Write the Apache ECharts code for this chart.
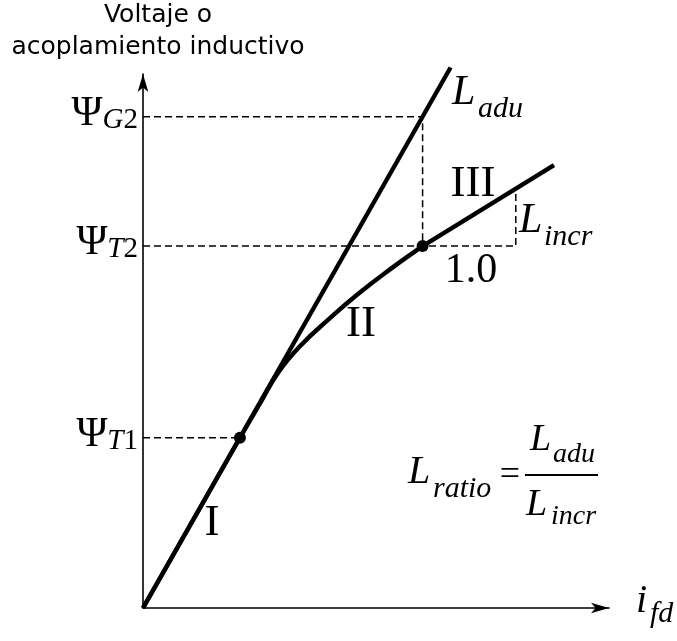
<!DOCTYPE html>
<html>
<head>
<meta charset="utf-8">
<script src="https://cdn.jsdelivr.net/npm/echarts@6/dist/echarts.min.js"></script>
<style>
  html, body { margin: 0; padding: 0; background: #fff; }
  #chart { width: 677px; height: 641px; }
</style>
</head>
<body>
<div id="chart"></div>
<script>
// Field current i_fd (x) against flux linkage / voltage (y); 1.0 = one unit of field current.
const fluxLevels = [1.83, 3.89, 5.28];            // Ψ_T1, Ψ_T2, Ψ_G2
const fluxLabels = [['T', '1'], ['T', '2'], ['G', '2']];
const airGapLine = [[0, 0], [3.30, 5.81]];        // unsaturated line L_adu
const linearPart = [[0, 0], [1.04, 1.83]];        // region I
const kneeCurve = [[1.04, 1.83], [1.25, 2.19], [1.45, 2.53], [1.70, 2.83],
                   [2.00, 3.11], [2.30, 3.37], [2.65, 3.64], [3.0, 3.89]];   // region II
const saturatedPart = [[3.0, 3.89], [4.41, 4.76]]; // region III
const markedPoints = [[1.04, 1.83], [3.0, 3.89]];
const guideT1 = [[0, 1.83], [1.04, 1.83]];
const guideG2 = [[0, 5.28], [3.0, 5.28], [3.0, 3.89]];
const guideT2 = [[0, 3.89], [4.0, 3.89], [4.0, 4.51]];

const SERIF = 'Liberation Serif';
const chart = echarts.init(document.getElementById('chart'), null, { renderer: 'canvas' });

const solid = { color: '#000', width: 4.4, cap: 'butt' };
const dashed = { color: '#000', width: 1.5, type: [7, 4] };

function lineSeries(data, style, extra) {
  return Object.assign({
    type: 'line', data: data, symbol: 'none', lineStyle: style,
    silent: true, animation: false, clip: false
  }, extra || {});
}

function txt(text, x, y, size, opts) {
  return {
    type: 'text', x: x, y: y, silent: true,
    style: Object.assign({
      text: text, fontFamily: SERIF, fontSize: size, fill: '#000',
      align: 'left', verticalAlign: 'middle'
    }, opts || {})
  };
}
const it = { fontStyle: 'italic' };

chart.setOption({
  animation: false,
  backgroundColor: '#fff',
  grid: { left: 143, right: 68, top: 74, bottom: 33, containLabel: false, outerBoundsMode: 'none' },
  xAxis: {
    type: 'value', min: 0, max: 5.0,
    axisLine: { show: true, symbol: ['none', 'arrow'], symbolSize: [8, 18],
                lineStyle: { color: '#000', width: 1.6 } },
    axisTick: { show: false }, axisLabel: { show: false }, splitLine: { show: false }
  },
  yAxis: {
    type: 'value', min: 0, max: 5.74,
    axisLine: { show: true, symbol: ['none', 'arrow'], symbolSize: [8, 18],
                lineStyle: { color: '#000', width: 1.6 } },
    axisTick: { show: false }, splitLine: { show: false },
    axisLabel: {
      show: true, customValues: fluxLevels, margin: 5,
      fontFamily: SERIF, color: '#000', padding: [0, 0, 6, 0],
      formatter: function (v) {
        const i = fluxLevels.indexOf(v);
        if (i < 0) return '';
        return '{psi|Ψ}{it|' + fluxLabels[i][0] + '}{rm|' + fluxLabels[i][1] + '}';
      },
      rich: {
        psi: { fontFamily: SERIF, fontSize: 42, verticalAlign: 'bottom', color: '#000' },
        it: { fontFamily: SERIF, fontSize: 29, fontStyle: 'italic', verticalAlign: 'bottom', color: '#000' },
        rm: { fontFamily: SERIF, fontSize: 29, verticalAlign: 'bottom', color: '#000' }
      }
    }
  },
  series: [
    lineSeries(guideT1, dashed),
    lineSeries(guideG2, dashed),
    lineSeries(guideT2, dashed),
    lineSeries(airGapLine, solid),
    lineSeries(linearPart, solid),
    lineSeries(kneeCurve, solid, { smooth: 0.45 }),
    lineSeries(saturatedPart, solid),
    {
      type: 'scatter', data: markedPoints, symbol: 'circle', symbolSize: 12, z: 5,
      itemStyle: { color: '#000', opacity: 1 }, silent: true, animation: false
    }
  ],
  graphic: [
    { type: 'text', x: 158, y: 31, silent: true,
      style: { text: 'Voltaje o\nacoplamiento inductivo', fontFamily: 'DejaVu Sans',
               fontSize: 25, lineHeight: 32, fill: '#000', align: 'center', verticalAlign: 'middle' } },
    txt('L', 452, 93, 42, it), txt('adu', 478, 109, 30, it),
    txt('L', 519, 221, 42, it), txt('incr', 544, 237, 30, it),
    txt('III', 473, 184, 45, { align: 'center' }),
    txt('1.0', 471, 271, 42, { align: 'center' }),
    txt('II', 361, 324, 45, { align: 'center' }),
    txt('I', 212, 523, 45, { align: 'center' }),
    txt('i', 636, 601, 40, it), txt('fd', 650, 614, 30, it),
    // L_ratio = L_adu / L_incr
    txt('L', 408, 472, 40, it), txt('ratio', 433, 489, 30, it),
    txt('=', 510, 476, 36, { align: 'center' }),
    { type: 'line', silent: true, shape: { x1: 525, y1: 475, x2: 598, y2: 475 },
      style: { stroke: '#000', lineWidth: 2 } },
    txt('L', 530, 440, 38, it), txt('adu', 553, 455, 28, it),
    txt('L', 526, 505, 38, it), txt('incr', 551, 517, 28, it)
  ]
});
</script>
</body>
</html>
